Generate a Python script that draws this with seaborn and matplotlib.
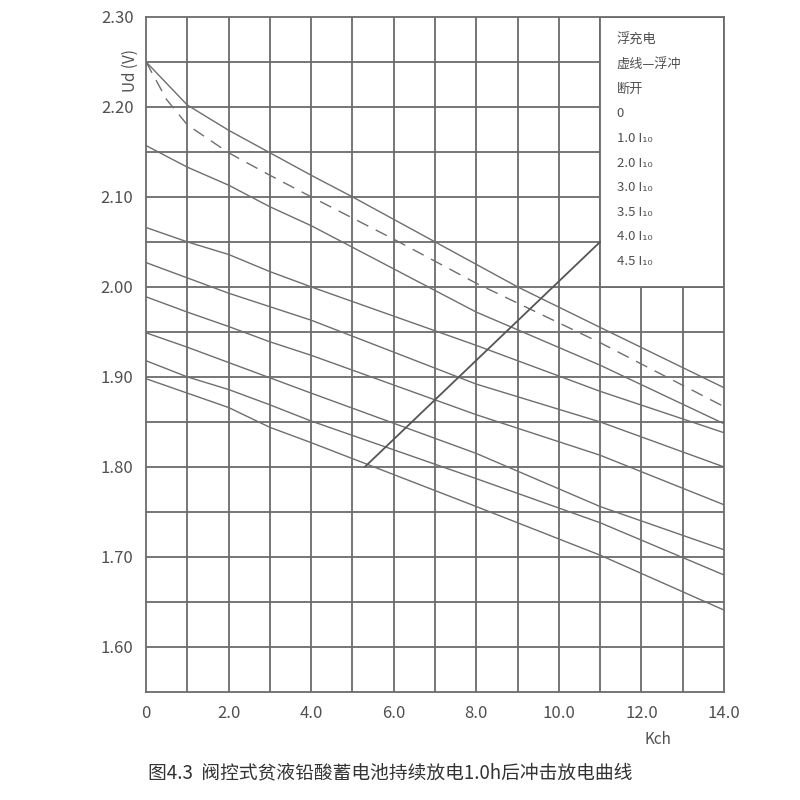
import matplotlib
matplotlib.use("Agg")
import matplotlib.pyplot as plt
import matplotlib.patches as mpatches
import numpy as np
import pandas as pd
import seaborn as sns

# ====================== DATA ======================
# float charge (solid) and "float charge disconnected" (dashed)
float_x = [0, 1, 2, 3, 4, 5, 7, 9, 11, 14]
float_u = [2.25, 2.202, 2.174, 2.149, 2.124, 2.10, 2.05, 2.00, 1.955, 1.888]
open_x = [0, 0.5, 1, 2, 3, 4, 6, 8, 11, 14]
open_u = [2.25, 2.208, 2.18, 2.149, 2.124, 2.10, 2.053, 2.004, 1.938, 1.867]

# discharge curves for 0 ... 4.5 I10
curve_x = [0, 1, 2, 3, 4, 8, 11, 14]
u_0 = [2.157, 2.133, 2.113, 2.089, 2.068, 1.972, 1.913, 1.848]
u_10 = [2.066, 2.05, 2.036, 2.017, 2.00, 1.935, 1.884, 1.838]
u_20 = [2.027, 2.010, 1.993, 1.978, 1.963, 1.892, 1.850, 1.800]
u_30 = [1.989, 1.972, 1.956, 1.939, 1.924, 1.858, 1.813, 1.758]
u_35 = [1.949, 1.933, 1.916, 1.899, 1.882, 1.815, 1.756, 1.708]
u_40 = [1.918, 1.900, 1.886, 1.869, 1.851, 1.787, 1.738, 1.680]
u_45 = [1.898, 1.882, 1.866, 1.844, 1.827, 1.756, 1.702, 1.641]

# straight limit line
limit_x = [5.3, 11.0]
limit_u = [1.80, 2.05]

x_ticks = [0, 2, 4, 6, 8, 10, 12, 14]
x_ticklabels = ["0", "2.0", "4.0", "6.0", "8.0", "10.0", "12.0", "14.0"]
y_ticks = [1.60, 1.70, 1.80, 1.90, 2.00, 2.10, 2.20, 2.30]
y_ticklabels = ["1.60", "1.70", "1.80", "1.90", "2.00", "2.10", "2.20", "2.30"]

legend_lines = ["浮充电", "虚线—浮冲", "断开", "0", "1.0 I₁₀", "2.0 I₁₀",
                "3.0 I₁₀", "3.5 I₁₀", "4.0 I₁₀", "4.5 I₁₀"]
caption = "图4.3  阀控式贫液铅酸蓄电池持续放电1.0h后冲击放电曲线"

# ====================== STYLE ======================
sns.set_theme(style="white")
plt.rcParams["font.family"] = ["Noto Sans CJK SC", "DejaVu Sans"]

grid_c = "#6b6b6b"
line_c = "#6e6e6e"
text_c = "#505050"

fig = plt.figure(figsize=(8, 8), dpi=100)
ax = fig.add_axes([0.1825, 0.135, 0.7225, 0.844])

ax.set_xlim(0, 14)
ax.set_ylim(1.55, 2.30)

# grid: every 1.0 Kch and every 0.05 V
for gx in np.arange(1, 14):
    ax.axvline(gx, color=grid_c, lw=1.3, zorder=0.5)
for gy in np.arange(1.60, 2.30, 0.05):
    ax.axhline(gy, color=grid_c, lw=1.3, zorder=0.5)

# legend box blanks out the grid in the top-right corner
ax.add_patch(mpatches.Rectangle((11, 2.00), 3, 0.30, facecolor="white",
                                edgecolor=grid_c, lw=1.3, zorder=1))

for xs, us in [(curve_x, u_0), (curve_x, u_10), (curve_x, u_20), (curve_x, u_30),
               (curve_x, u_35), (curve_x, u_40), (curve_x, u_45), (float_x, float_u)]:
    sns.lineplot(x=xs, y=us, ax=ax, color=line_c, lw=1.0, zorder=2)

sns.lineplot(x=open_x, y=open_u, ax=ax, color=line_c, lw=1.0, zorder=2,
             dashes=False, linestyle=(0, (9, 6)))
sns.lineplot(x=limit_x, y=limit_u, ax=ax, color="#555555", lw=1.3, zorder=2)

for s in ax.spines.values():
    s.set_color(grid_c)
    s.set_linewidth(1.3)

ax.set_xticks(x_ticks)
ax.set_xticklabels(x_ticklabels)
ax.set_yticks(y_ticks)
ax.set_yticklabels(y_ticklabels)
ax.tick_params(length=0, pad=9, labelsize=12, labelcolor=text_c)
ax.set_xlabel("")
ax.set_ylabel("")

# legend text
for i, lab in enumerate(legend_lines):
    ax.text(11.4, 2.274 - i * 0.0273, lab, fontsize=9.5, color=text_c,
            va="center", ha="left", zorder=3)

ax.text(-0.39, 2.24, "Ud (V)", rotation=90, fontsize=11, color=text_c,
        ha="center", va="center", clip_on=False)
ax.text(12.4, 1.497, "Kch", fontsize=11, color=text_c, ha="center", va="center")

fig.text(148 / 800, 1 - 773 / 800, caption, fontsize=13.5, color="#333333",
         ha="left", va="center")

fig.savefig("out.png", dpi=100, facecolor="white")
